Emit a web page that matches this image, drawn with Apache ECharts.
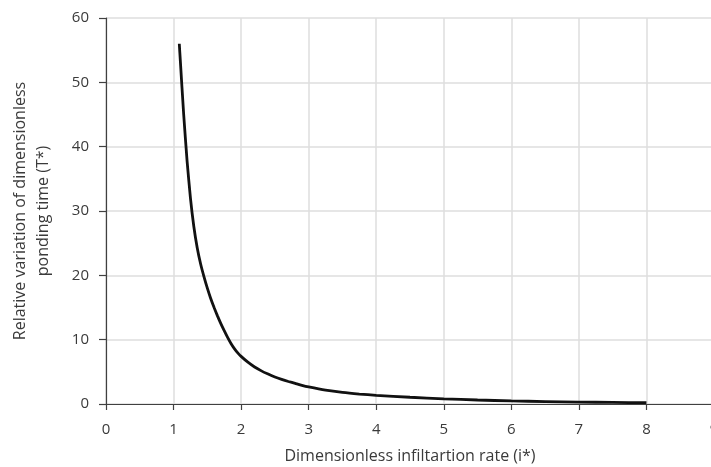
<!DOCTYPE html>
<html>
<head>
<meta charset="utf-8">
<script src="https://cdn.jsdelivr.net/npm/echarts@6/dist/echarts.min.js"></script>
<style>html,body{margin:0;padding:0;background:#fff}#c{width:711px;height:467px}</style>
</head>
<body>
<div id="c"></div>
<script>
var xValues = [1.085, 1.1, 1.15, 1.2, 1.25, 1.3, 1.35, 1.4, 1.45, 1.5, 1.55, 1.6, 1.65, 1.7, 1.75, 1.8, 1.85, 1.9, 1.95, 2,
  2.1, 2.2, 2.3, 2.4, 2.5, 2.6, 2.7, 2.8, 2.9, 3, 3.25, 3.5, 3.75, 4, 4.5, 5, 5.5, 6, 6.5, 7, 7.5, 8];
var yValues = [56, 53.4, 45, 37.8, 32, 27.6, 24.3, 21.8, 19.8, 18, 16.4, 15, 13.7, 12.5, 11.4, 10.35, 9.4, 8.6, 7.95, 7.4,
  6.5, 5.75, 5.15, 4.65, 4.2, 3.83, 3.5, 3.2, 2.9, 2.65, 2.15, 1.8, 1.55, 1.35, 1.05, 0.8, 0.62, 0.48, 0.38, 0.3, 0.25, 0.2];
var xTitle = 'Dimensionless infiltartion rate (i*)';
var yTitle = 'Relative variation of dimensionless\nponding time (T*)';

var pts = xValues.map(function (x, i) { return [x, yValues[i]]; });
var font = 'Open Sans';
var txt = '#3a3a3a';
var chart = echarts.init(document.getElementById('c'));
chart.setOption({
  animation: false,
  grid: { left: 106, top: 18, bottom: 63, right: -3, containLabel: false, outerBoundsMode: 'none' },
  xAxis: {
    type: 'value', min: 0, max: 9, interval: 1,
    name: xTitle, nameLocation: 'middle', nameGap: 44,
    nameTextStyle: { color: txt, fontFamily: font, fontSize: 16 },
    axisLine: { show: true, onZero: true, lineStyle: { color: '#404040', width: 1.2 } },
    axisTick: { show: true, length: 6, lineStyle: { color: '#404040', width: 1.2 } },
    axisLabel: { color: txt, fontFamily: font, fontSize: 15, margin: 18 },
    splitLine: { show: true, lineStyle: { color: '#dedede', width: 1.5 } }
  },
  yAxis: {
    type: 'value', min: 0, max: 60, interval: 10,
    name: yTitle, nameLocation: 'middle', nameGap: 51, nameRotate: 90,
    nameTextStyle: { color: txt, fontFamily: font, fontSize: 16, lineHeight: 23, align: 'center' },
    axisLine: { show: true, lineStyle: { color: '#404040', width: 1.2 } },
    axisTick: { show: true, length: 7, lineStyle: { color: '#404040', width: 1.2 } },
    axisLabel: { color: txt, fontFamily: font, fontSize: 15, margin: 17 },
    splitLine: { show: true, lineStyle: { color: '#dedede', width: 1.5 } }
  },
  series: [{
    type: 'line', data: pts, smooth: 0.2, showSymbol: false,
    lineStyle: { color: '#111', width: 2.8 }
  }]
});
</script>
</body>
</html>
